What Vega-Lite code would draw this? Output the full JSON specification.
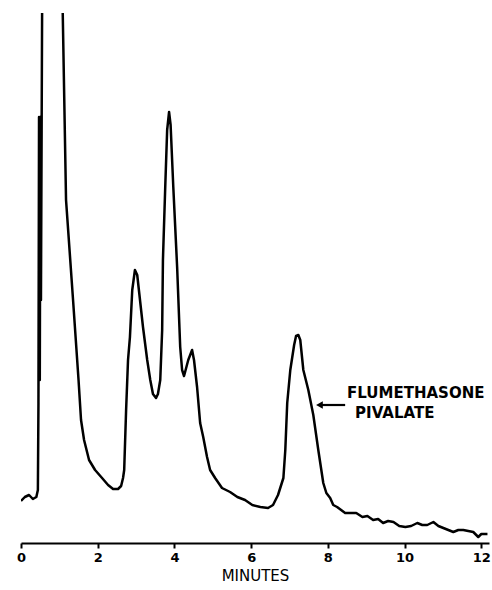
{
  "$schema": "https://vega.github.io/schema/vega-lite/v6.json",
  "autosize": "none",
  "padding": {"left": 21, "top": 13, "right": 3, "bottom": 47},
  "width": 468,
  "height": 530,
  "background": "white",
  "config": {"view": {"stroke": null}},
  "datasets": {
    "trace": [
      {"t": 0.00, "v": 42}, {"t": 0.10, "v": 46}, {"t": 0.21, "v": 48}, {"t": 0.31, "v": 44},
      {"t": 0.40, "v": 46}, {"t": 0.44, "v": 53}, {"t": 0.455, "v": 140}, {"t": 0.47, "v": 426},
      {"t": 0.49, "v": 163}, {"t": 0.505, "v": 426}, {"t": 0.52, "v": 243}, {"t": 0.55, "v": 530},
      {"t": 0.56, "v": 900}, {"t": 1.08, "v": 900},
      {"t": 1.088, "v": 530}, {"t": 1.174, "v": 343}, {"t": 1.357, "v": 243}, {"t": 1.50, "v": 163},
      {"t": 1.565, "v": 123}, {"t": 1.644, "v": 103}, {"t": 1.774, "v": 83}, {"t": 1.931, "v": 73},
      {"t": 2.113, "v": 65}, {"t": 2.27, "v": 58}, {"t": 2.40, "v": 54}, {"t": 2.53, "v": 54},
      {"t": 2.61, "v": 57}, {"t": 2.66, "v": 65}, {"t": 2.69, "v": 73}, {"t": 2.74, "v": 133},
      {"t": 2.79, "v": 183}, {"t": 2.84, "v": 206}, {"t": 2.90, "v": 253}, {"t": 2.97, "v": 273},
      {"t": 3.03, "v": 268}, {"t": 3.18, "v": 216}, {"t": 3.29, "v": 183}, {"t": 3.37, "v": 163},
      {"t": 3.44, "v": 149}, {"t": 3.52, "v": 145}, {"t": 3.57, "v": 149}, {"t": 3.63, "v": 163},
      {"t": 3.68, "v": 213}, {"t": 3.70, "v": 283}, {"t": 3.76, "v": 356}, {"t": 3.81, "v": 413},
      {"t": 3.86, "v": 431}, {"t": 3.90, "v": 418}, {"t": 3.97, "v": 356}, {"t": 4.07, "v": 276},
      {"t": 4.15, "v": 196}, {"t": 4.20, "v": 173}, {"t": 4.25, "v": 167}, {"t": 4.36, "v": 183},
      {"t": 4.46, "v": 193}, {"t": 4.51, "v": 183}, {"t": 4.59, "v": 156}, {"t": 4.67, "v": 120},
      {"t": 4.75, "v": 106}, {"t": 4.85, "v": 86}, {"t": 4.93, "v": 73}, {"t": 5.06, "v": 65},
      {"t": 5.24, "v": 55}, {"t": 5.45, "v": 51}, {"t": 5.64, "v": 46}, {"t": 5.84, "v": 43},
      {"t": 6.03, "v": 38}, {"t": 6.24, "v": 36}, {"t": 6.44, "v": 35}, {"t": 6.57, "v": 38},
      {"t": 6.70, "v": 48}, {"t": 6.84, "v": 65}, {"t": 6.89, "v": 93}, {"t": 6.94, "v": 140},
      {"t": 7.02, "v": 173}, {"t": 7.12, "v": 198}, {"t": 7.17, "v": 207}, {"t": 7.23, "v": 208},
      {"t": 7.28, "v": 203}, {"t": 7.36, "v": 173}, {"t": 7.49, "v": 153}, {"t": 7.62, "v": 128},
      {"t": 7.75, "v": 93}, {"t": 7.88, "v": 60}, {"t": 7.96, "v": 50}, {"t": 8.06, "v": 45},
      {"t": 8.14, "v": 38}, {"t": 8.24, "v": 36}, {"t": 8.45, "v": 30}, {"t": 8.58, "v": 30},
      {"t": 8.74, "v": 30}, {"t": 8.90, "v": 26}, {"t": 9.03, "v": 27}, {"t": 9.18, "v": 23},
      {"t": 9.31, "v": 24}, {"t": 9.44, "v": 20}, {"t": 9.57, "v": 22}, {"t": 9.71, "v": 21},
      {"t": 9.86, "v": 17}, {"t": 10.02, "v": 16}, {"t": 10.17, "v": 17}, {"t": 10.33, "v": 20},
      {"t": 10.46, "v": 18}, {"t": 10.59, "v": 18}, {"t": 10.75, "v": 21}, {"t": 10.88, "v": 17},
      {"t": 11.01, "v": 15}, {"t": 11.14, "v": 13}, {"t": 11.27, "v": 11}, {"t": 11.40, "v": 13},
      {"t": 11.53, "v": 13}, {"t": 11.66, "v": 12}, {"t": 11.79, "v": 11}, {"t": 11.92, "v": 6},
      {"t": 12.00, "v": 9}, {"t": 12.16, "v": 9}
    ],
    "arrow": [{"t1": 7.78, "t2": 8.45, "v": 138}],
    "labels": [
      {"t": 8.50, "v": 150, "label": "FLUMETHASONE"},
      {"t": 8.71, "v": 130, "label": "PIVALATE"}
    ]
  },
  "layer": [
    {
      "data": {"name": "trace"},
      "mark": {"type": "line", "color": "black", "strokeWidth": 2.5, "clip": true, "strokeJoin": "round"},
      "encoding": {
        "x": {
          "field": "t", "type": "quantitative",
          "scale": {"domain": [0, 12.2], "nice": false, "zero": false},
          "axis": {
            "values": [0, 2, 4, 6, 8, 10, 12],
            "title": "MINUTES",
            "titleFont": "DejaVu Sans", "titleFontSize": 15, "titleFontWeight": "normal",
            "titleColor": "black", "titlePadding": 4,
            "labelFont": "DejaVu Sans", "labelFontSize": 13, "labelFontWeight": "bold", "labelColor": "black",
            "labelPadding": 3, "labelFlush": false,
            "domainColor": "black", "domainWidth": 2,
            "tickColor": "black", "tickWidth": 2, "tickSize": 5,
            "grid": false
          }
        },
        "y": {
          "field": "v", "type": "quantitative",
          "scale": {"domain": [0, 530], "nice": false},
          "axis": null
        },
        "order": {"value": 0}
      }
    },
    {
      "data": {"name": "arrow"},
      "mark": {"type": "rule", "color": "black", "strokeWidth": 2.2},
      "encoding": {
        "x": {"field": "t1", "type": "quantitative"},
        "x2": {"field": "t2"},
        "y": {"field": "v", "type": "quantitative"}
      }
    },
    {
      "data": {"name": "arrow"},
      "mark": {"type": "point", "shape": "triangle-left", "filled": true, "color": "black", "size": 60, "opacity": 1},
      "encoding": {
        "x": {"field": "t1", "type": "quantitative"},
        "y": {"field": "v", "type": "quantitative"}
      }
    },
    {
      "data": {"name": "labels"},
      "mark": {"type": "text", "align": "left", "baseline": "middle", "font": "DejaVu Sans", "fontSize": 15, "fontWeight": "bold", "color": "black"},
      "encoding": {
        "x": {"field": "t", "type": "quantitative"},
        "y": {"field": "v", "type": "quantitative"},
        "text": {"field": "label"}
      }
    }
  ]
}
